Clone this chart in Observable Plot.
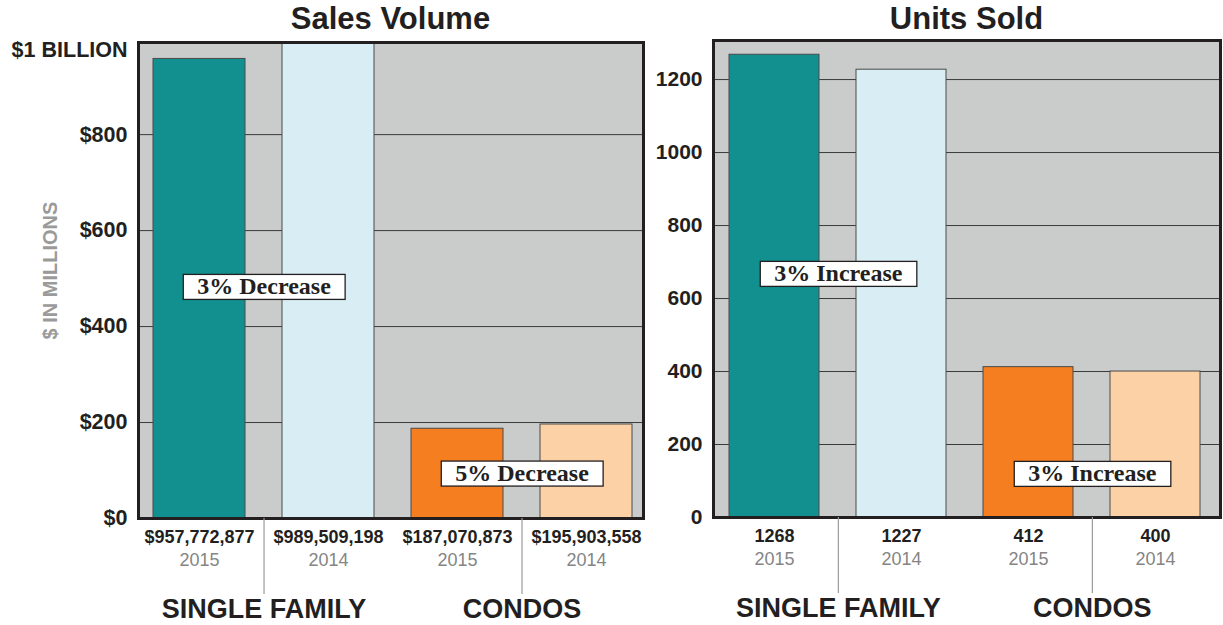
<!DOCTYPE html>
<html>
<head>
<meta charset="utf-8">
<script src="https://cdn.jsdelivr.net/npm/d3@7"></script>
<script src="https://cdn.jsdelivr.net/npm/@observablehq/plot@0.6"></script>
<style>
  html, body { margin: 0; padding: 0; background: #fff; width: 1223px; height: 625px; overflow: hidden; }
  #wrap { display: flex; flex-direction: row; }
  .panel { position: relative; }
  .title { height: 36px; line-height: 38px; font-family: "Liberation Sans", Arial, sans-serif; font-weight: bold; font-size: 31px; color: #231f20; text-align: center; }
</style>
</head>
<body>
<div id="wrap">
  <div class="panel" id="left" style="width:650px"><div class="title" style="padding-left:138px;padding-right:7px">Sales Volume</div></div>
  <div class="panel" id="right" style="width:573px"><div class="title" style="padding-left:63px;padding-right:3px">Units Sold</div></div>
</div>
<script>
// ---- data ----
const categories = ["SF 2015", "SF 2014", "Condo 2015", "Condo 2014"];
const years = ["2015", "2014", "2015", "2014"];
const salesDollars = [957772877, 989509198, 187070873, 195903558];
const unitsSold = [1268, 1227, 412, 400];
const barColors = ["#11908f", "#d9eef4", "#f47e20", "#fcd1a5"];
const groupLabels = ["SINGLE FAMILY", "CONDOS"];
const salesTicks = [0, 200, 400, 600, 800];
const unitsTicks = [0, 200, 400, 600, 800, 1000, 1200];
const salesChanges = ["3% Decrease", "5% Decrease"];
const unitsChanges = ["3% Increase", "3% Increase"];
const topSalesLabel = "$1 BILLION";
const salesAxisTitle = "$ IN MILLIONS";

const ink = "#231f20";
const sans = "Liberation Sans, Arial, sans-serif";
const serif = "Liberation Serif, Times New Roman, serif";

function panel({width, marginLeft, marginRight, marginTop, marginBottom, padInner, padOuter, align, tickFont, domainMax, values, labels, ticks, tickFormat, changes, changeY, extra}) {
  const height = 589;
  const frameW = width - marginLeft - marginRight;
  const plotH = height - marginTop - marginBottom;
  const step = frameW / (categories.length - padInner + 2 * padOuter);
  const rows = categories.map((c, i) => ({cat: c, value: values[i], label: labels[i], year: years[i]}));
  const groups = groupLabels.map((g, i) => ({group: g, cat: categories[i * 2], change: changes[i], cy: changeY[i]}));
  return Plot.plot({
    width, height, marginLeft, marginRight, marginTop, marginBottom,
    style: {fontFamily: sans, fontSize: tickFont + "px", fontWeight: "bold", color: ink, background: "transparent"},
    x: {domain: categories, paddingInner: padInner, paddingOuter: padOuter, align, axis: null},
    y: {domain: [0, domainMax], ticks, tickFormat, tickSize: 0, tickPadding: 11, label: null},
    color: {domain: categories, range: barColors},
    marks: [
      Plot.frame({fill: "#cacbcb"}),
      Plot.ruleY(ticks.filter(t => t > 0), {stroke: "#3a3a3a", strokeWidth: 1}),
      Plot.barY(rows, {x: "cat", y: "value", fill: "cat", stroke: "#4a4a4a", strokeWidth: 1}),
      Plot.frame({stroke: ink, strokeWidth: 3}),
      Plot.ruleX(groups, {x: "cat", dx: step / 2, insetTop: plotH, insetBottom: -76, stroke: "#9a9a9a", strokeWidth: 1.2}),
      Plot.text(rows, {x: "cat", frameAnchor: "bottom", lineAnchor: "middle", dy: 19, text: "label", fontSize: 18, fontWeight: "bold", fill: ink}),
      Plot.text(rows, {x: "cat", frameAnchor: "bottom", lineAnchor: "middle", dy: 42, text: "year", fontSize: 18, fontWeight: "normal", fill: "#858585"}),
      Plot.text(groups, {x: "cat", dx: step / 2, frameAnchor: "bottom", lineAnchor: "middle", dy: 91, text: "group", fontSize: 27, fontWeight: "bold", fill: ink}),
      Plot.text(groups, {x: "cat", dx: step / 2, y: "cy", text: "change", fontSize: 24, fontWeight: "bold", fontFamily: serif, fill: ink}),
      ...extra
    ]
  });
}

function addBoxes(svg, labels) {
  svg.querySelectorAll("text").forEach(t => {
    if (!labels.includes(t.textContent)) return;
    t.setAttribute("font-weight", "bold");
    t.style.fontWeight = "bold";
    t.style.fontFamily = serif;
    const b = t.getBBox();
    const r = document.createElementNS("http://www.w3.org/2000/svg", "rect");
    r.setAttribute("x", b.x - 14);
    r.setAttribute("y", b.y + 1);
    r.setAttribute("width", b.width + 28);
    r.setAttribute("height", b.height - 1);
    r.setAttribute("fill", "#ffffff");
    r.setAttribute("stroke", ink);
    r.setAttribute("stroke-width", 1.3);
    if (t.getAttribute("transform")) r.setAttribute("transform", t.getAttribute("transform"));
    t.parentNode.insertBefore(r, t);
  });
}

const left = panel({
  width: 650, marginLeft: 138, marginRight: 7, marginTop: 6, marginBottom: 107,
  padInner: 0.287, padOuter: 0.1, align: 0.58, tickFont: 21.5,
  domainMax: 992,
  values: salesDollars.map(v => v / 1e6),
  labels: salesDollars.map(d3.format("$,")),
  ticks: salesTicks,
  tickFormat: d => "$" + d,
  changes: salesChanges,
  changeY: [483, 94],
  extra: [
    Plot.text([topSalesLabel], {frameAnchor: "top-left", textAnchor: "end", lineAnchor: "middle", dx: -11, dy: 8, text: d => d, fontSize: 21.5, fontWeight: "bold", fill: ink}),
    Plot.text([salesAxisTitle], {frameAnchor: "left", textAnchor: "middle", lineAnchor: "middle", rotate: -90, dx: -88, dy: -10, text: d => d, fontSize: 20, fontWeight: "bold", fill: "#9a9a9a"})
  ]
});
document.getElementById("left").appendChild(left);

const right = panel({
  width: 573, marginLeft: 63, marginRight: 3, marginTop: 4, marginBottom: 108,
  padInner: 0.291, padOuter: 0.13, align: 0.45, tickFont: 21,
  domainMax: 1307,
  values: unitsSold,
  labels: unitsSold.map(String),
  ticks: unitsTicks,
  tickFormat: d => String(d),
  changes: unitsChanges,
  changeY: [668, 120],
  extra: []
});
document.getElementById("right").appendChild(right);

addBoxes(left, salesChanges);
addBoxes(right, unitsChanges);
</script>
</body>
</html>
